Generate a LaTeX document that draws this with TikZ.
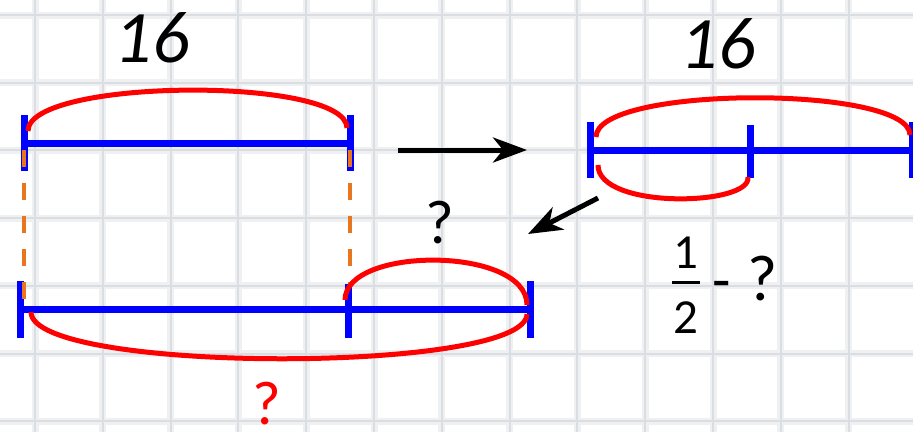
\documentclass[tikz,border=0pt]{standalone}
\usepackage{fontspec}
\setmainfont{Carlito}
\usetikzlibrary{arrows.meta}
\definecolor{segblue}{RGB}{0,0,255}
\definecolor{arcred}{RGB}{255,0,0}
\definecolor{guideorange}{RGB}{232,118,30}
\definecolor{gridcore}{RGB}{218,222,227}
\definecolor{gridhalo}{RGB}{238,240,242}
\begin{document}
\begin{tikzpicture}[x=1pt,y=-1pt,
  bar/.style={draw=segblue, line width=7pt},
  tickmark/.style={draw=segblue, line width=7pt},
  brace/.style={draw=arcred, line width=5pt},
  guide/.style={draw=guideorange, line width=4pt, dash pattern=on 17pt off 16pt},
  flow/.style={draw=black, line width=5pt, -{Stealth[length=34pt,width=25pt,inset=10pt]}},
  lbl/.style={inner sep=0pt, anchor=base},
]
\useasboundingbox (0,0) rectangle (913,432);
\fill[white] (0,0) rectangle (913,432);

% squared paper: soft halo with a thin core
\foreach \k in {0,...,13} {
  \draw[gridhalo, line width=7pt] ({35+67.8*\k},0) -- ++(0,432);
}
\foreach \k in {0,...,6} {
  \draw[gridhalo, line width=7pt] (0,{15+67.7*\k}) -- ++(913,0);
}
\foreach \k in {0,...,13} {
  \draw[gridcore, line width=2pt] ({35+67.8*\k},0) -- ++(0,432);
}
\foreach \k in {0,...,6} {
  \draw[gridcore, line width=2pt] (0,{15+67.7*\k}) -- ++(913,0);
}

% segment ends
\coordinate (a0) at (24,143);  \coordinate (a1) at (350,143);
\coordinate (b0) at (590,150); \coordinate (b1) at (750,150); \coordinate (b2) at (912,150);
\coordinate (c0) at (20,309);  \coordinate (c1) at (348,309); \coordinate (c2) at (530,309);

% blue segments
\draw[bar] (a0) -- (a1);
\draw[tickmark] (24,115) -- (24,171);
\draw[tickmark] (350,115) -- (350,171);

\draw[bar] (b0) -- (b2);
\draw[tickmark] (590,122) -- (590,178);
\draw[tickmark] (750,125) -- (750,178);
\draw[tickmark] (912,122) -- (912,178);

\draw[bar] (c0) -- (c2);
\draw[tickmark] (20,281) -- (20,338);
\draw[tickmark] (348,284) -- (348,338);
\draw[tickmark] (530,281) -- (530,338);

% orange guides
\draw[guide] (24,150) -- (24,299);
\draw[guide] (350,150) -- (350,284);

% red braces
\draw[brace] (28,131) .. controls (28,78) and (347,76) .. (347,128);
\draw[brace] (596,137) .. controls (596,85) and (910,85) .. (910,135);
\draw[brace] (598,165) .. controls (598,210) and (752,206) .. (748,177);
\draw[brace] (345,300) .. controls (345,246) and (527,246) .. (527,305);
\draw[brace] (31,312) .. controls (31,374) and (527,374) .. (527,314);

% arrows
\coordinate (f1s) at (398,150); \coordinate (f1e) at (527,150);
\coordinate (f2s) at (598,198); \coordinate (f2e) at (528,234);
\draw[flow] (f1s) -- (f1e);
\draw[flow] (f2s) -- (f2e);

% labels
\node[lbl, font=\fontsize{74}{74}\selectfont\itshape] (sixteenL) at (152,62) {16};
\node[lbl, font=\fontsize{74}{74}\selectfont\itshape] (sixteenR) at (718,68) {16};
\node[lbl, font=\fontsize{62}{62}\selectfont] (qtop) at (440,243) {?};
\node[lbl, font=\fontsize{62}{62}\selectfont, text=arcred] (qred) at (267,424) {?};
\node[lbl, font=\fontsize{49}{49}\selectfont] (num) at (686,268) {1};
\node[lbl, font=\fontsize{49}{49}\selectfont] (den) at (686,333) {2};
\draw[black, line width=3pt] (672,282) -- (700,282);
\node[lbl, font=\fontsize{60}{60}\selectfont] (minus) at (722,300) {-};
\node[lbl, font=\fontsize{65}{65}\selectfont] (qfrac) at (763,300) {?};
\end{tikzpicture}
\end{document}
